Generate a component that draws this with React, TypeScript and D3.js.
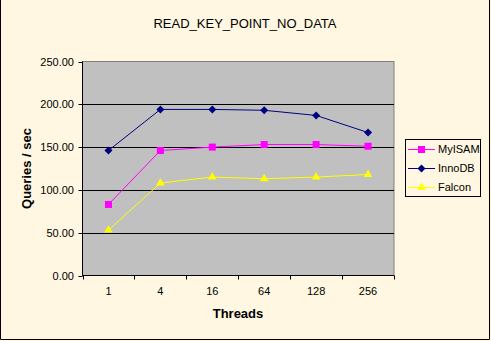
import React from "react";
import * as d3 from "d3";

const categories = ["1", "4", "16", "64", "128", "256"];
const myisam = [83, 146, 150, 153, 153, 151];
const innodb = [146, 194, 194, 193, 187, 167];
const falcon = [53, 108, 115, 113, 115, 118];
const yTicks = [0, 50, 100, 150, 200, 250];

const series = [
  { name: "MyISAM", values: myisam, color: "#FF00FF", marker: "square" },
  { name: "InnoDB", values: innodb, color: "#000080", marker: "diamond" },
  { name: "Falcon", values: falcon, color: "#FFFF00", marker: "triangle" },
];

const W = 491, H = 341;
const plot = { left: 82.5, right: 394, top: 61.5, bottom: 275.5 };

function Marker({ type, x, y, color }: { type: string; x: number; y: number; color: string }) {
  if (type === "square") {
    return <rect x={x - 3.5} y={y - 3.5} width={7} height={7} fill={color} />;
  }
  if (type === "diamond") {
    return <path d="M0,-4 L4,0 L0,4 L-4,0 Z" transform={`translate(${x},${y})`} fill={color} />;
  }
  const p = d3.symbol().type(d3.symbolTriangle).size(32)();
  return <path d={p || ""} transform={`translate(${x},${y})`} fill={color} />;
}

export default function App() {
  const x = d3.scaleBand().domain(categories).range([plot.left, plot.right]);
  const y = d3.scaleLinear().domain([0, 250]).range([plot.bottom, plot.top]);
  const line = d3
    .line<number>()
    .x((_, i) => (x(categories[i]) as number) + x.bandwidth() / 2)
    .y((d) => y(d));
  const font = "Arial, 'Liberation Sans', sans-serif";
  const boundaries = d3.range(categories.length + 1).map((i) => plot.left + i * x.bandwidth());

  return (
    <svg width={W} height={H} style={{ position: "absolute", left: 0, top: 0 }} fontFamily={font}>
      <rect x={0} y={0} width={W} height={H} fill="#FFF7E1" />
      <path d={`M0.5,0 V${H - 1.5} H${W - 1.5} V0`} fill="none" stroke="#000" strokeWidth={1} />
      <text x={245} y={28} textAnchor="middle" fontSize={13} fill="#000">
        READ_KEY_POINT_NO_DATA
      </text>
      <rect
        x={plot.left}
        y={plot.top}
        width={plot.right - plot.left}
        height={plot.bottom - plot.top}
        fill="#C0C0C0"
        stroke="#808080"
        strokeWidth={1}
      />
      {yTicks.slice(1, -1).map((t) => (
        <line key={t} x1={plot.left} x2={plot.right} y1={Math.round(y(t)) + 0.5} y2={Math.round(y(t)) + 0.5} stroke="#000" />
      ))}
      <line x1={plot.left} x2={plot.left} y1={plot.top} y2={plot.bottom} stroke="#000" />
      <line x1={plot.left} x2={plot.right} y1={plot.bottom} y2={plot.bottom} stroke="#000" />
      {yTicks.map((t) => (
        <g key={t}>
          <line x1={plot.left - 4} x2={plot.left} y1={Math.round(y(t)) + 0.5} y2={Math.round(y(t)) + 0.5} stroke="#000" />
          <text x={74} y={y(t) + 4} textAnchor="end" fontSize={11} fill="#000">
            {t.toFixed(2)}
          </text>
        </g>
      ))}
      {boundaries.map((b, i) => (
        <line key={i} x1={Math.round(b) + 0.5} x2={Math.round(b) + 0.5} y1={plot.bottom} y2={plot.bottom + 4} stroke="#000" />
      ))}
      {categories.map((c) => (
        <text key={c} x={(x(c) as number) + x.bandwidth() / 2} y={295} textAnchor="middle" fontSize={11} fill="#000">
          {c}
        </text>
      ))}
      <text x={238} y={318} textAnchor="middle" fontSize={13} fontWeight="bold" fill="#000">
        Threads
      </text>
      <text
        transform={`translate(31,${(plot.top + plot.bottom) / 2}) rotate(-90)`}
        textAnchor="middle"
        fontSize={13}
        fontWeight="bold"
        fill="#000"
      >
        Queries / sec
      </text>
      {series.map((s) => (
        <g key={s.name}>
          <path d={line(s.values) || ""} fill="none" stroke={s.color} strokeWidth={1} />
          {s.values.map((v, i) => (
            <Marker key={i} type={s.marker} x={(x(categories[i]) as number) + x.bandwidth() / 2} y={y(v)} color={s.color} />
          ))}
        </g>
      ))}
      <rect x={405.5} y={139.5} width={75} height={57} fill="#FFF7E1" stroke="#000" strokeWidth={1} />
      {series.map((s, i) => {
        const ly = 149 + i * 19;
        return (
          <g key={s.name}>
            <line x1={408} x2={435} y1={ly + 0.5} y2={ly + 0.5} stroke={s.color} />
            <Marker type={s.marker} x={421.5} y={ly + 0.5} color={s.color} />
            <text x={438} y={ly + 4} fontSize={11} fill="#000">
              {s.name}
            </text>
          </g>
        );
      })}
    </svg>
  );
}
